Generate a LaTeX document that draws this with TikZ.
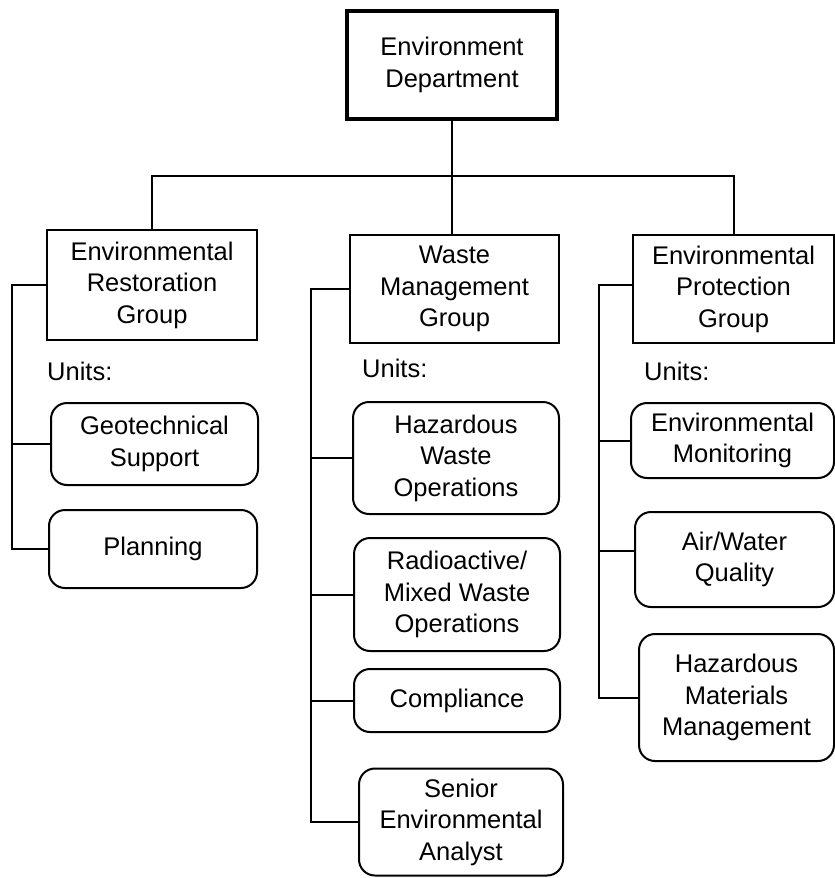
\documentclass[tikz,border=0pt]{standalone}
\usepackage{fontspec}
\setmainfont{Liberation Sans}
\begin{document}
\begin{tikzpicture}[x=1pt,y=-1pt,
  every node/.style={font=\fontsize{25.5}{31.5}\selectfont, align=center, inner sep=0pt},
  grp/.style={draw, line width=2pt, rectangle},
  unitbox/.style={draw, line width=2pt, rounded corners=16pt},
  link/.style={line width=2pt}]
\useasboundingbox (0,0) rectangle (835,878);

% top
\node[grp, line width=4pt, minimum width=210pt, minimum height=108pt] (top) at (452,65) {Environment\\Department};

% groups
\node[grp, minimum width=210pt, minimum height=110pt] (g1) at (152,285) {Environmental\\Restoration\\Group};
\node[grp, minimum width=209pt, minimum height=108pt] (g2) at (454.5,289) {Waste\\Management\\Group};
\node[grp, minimum width=201pt, minimum height=108pt] (g3) at (733.5,289) {Environmental\\Protection\\Group};

% units labels
\node[anchor=base west] (u1) at (47,380) {Units:};
\node[anchor=base west] (u2) at (362,377) {Units:};
\node[anchor=base west] (u3) at (644,380) {Units:};

% left units
\node[unitbox, minimum width=207pt, minimum height=82pt] (geo) at (154.5,444) {Geotechnical\\Support};
\node[unitbox, minimum width=208pt, minimum height=78pt] (plan) at (153,549) {Planning};

% middle units
\node[unitbox, minimum width=206pt, minimum height=112pt] (haz) at (456,458) {Hazardous\\Waste\\Operations};
\node[unitbox, minimum width=206pt, minimum height=113pt] (rad) at (457,594.5) {Radioactive/\\Mixed Waste\\Operations};
\node[unitbox, minimum width=206pt, minimum height=63pt] (comp) at (457,700.5) {Compliance};
\node[unitbox, minimum width=204pt, minimum height=107pt] (sen) at (461,822) {Senior\\Environmental\\Analyst};

% right units
\node[unitbox, minimum width=203pt, minimum height=75pt] (envmon) at (732.5,440.5) {Environmental\\Monitoring};
\node[unitbox, minimum width=199pt, minimum height=95pt] (air) at (734.5,559.5) {Air/Water\\Quality};
\node[unitbox, minimum width=195pt, minimum height=127pt] (hmm) at (736.5,697.5) {Hazardous\\Materials\\Management};

% top connectors
\coordinate (bus) at (452,176);
\draw[link] (top.south) -- (bus);
\draw[link] (g1.north) |- (bus) -| (g3.north);
\draw[link] (bus) -- (bus |- g2.north);

% bars
\coordinate (lbar) at (12,0);
\coordinate (mbar) at (311,0);
\coordinate (rbar) at (599,0);

\draw[link] (g1.west) -| (lbar |- plan.west) -- (plan.west);
\draw[link] (geo.west) -- (lbar |- geo.west);

\draw[link] (g2.west) -| (mbar |- sen.west) -- (sen.west);
\draw[link] (haz.west) -- (mbar |- haz.west);
\draw[link] (rad.west) -- (mbar |- rad.west);
\draw[link] (comp.west) -- (mbar |- comp.west);

\coordinate (g3c) at ([yshift=4pt]g3.west);
\coordinate (airc) at ([yshift=8.5pt]air.west);
\draw[link] (g3c) -| (rbar |- hmm.west) -- (hmm.west);
\draw[link] (envmon.west) -- (rbar |- envmon.west);
\draw[link] (airc) -- (rbar |- airc);
\end{tikzpicture}
\end{document}
